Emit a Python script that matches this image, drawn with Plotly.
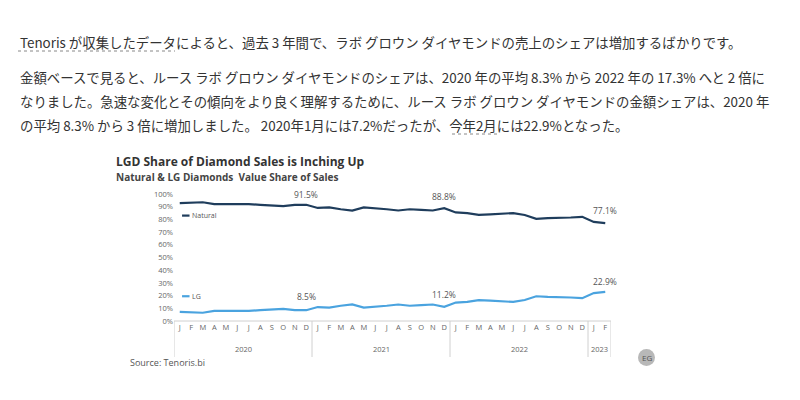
import plotly.graph_objects as go

months = ["J","F","M","A","M","J","J","A","S","O","N","D"]*3 + ["J","F"]
years = ["2020","2021","2022","2023"]
natural = [92.8,93,93.5,92,92,92.5,92,91.5,91,90.5,91.5,91.5,
           89,89.5,88,87,89.5,89,88,87,88,87.5,87,88.8,
           85.5,85,83.5,84,84.5,85,83.5,80.5,81,81,81.5,82,
           78,77.1]
lg = [7.2,7,6.5,8,8,7.5,8,8.5,9,9.5,8.5,8.5,
      11,10.5,12,13,10.5,11,12,13,12,12.5,13,11.2,
      14.5,15,16.5,16,15.5,15,16.5,19.5,19,19,18.5,18,
      22,22.9]
x = list(range(len(months)))
NAVY = "#1f3d5c"; BLUE = "#4aa3df"
OFF = 8  # page body margin
L, R, T, B = 174 - OFF, 189 + OFF, 194 - OFF, 79 + OFF
PW, PH = 800 - L - R, 400 - T - B
def px(xp): return (xp - OFF - L) / PW
def py(yp): return (400 - B - (yp - OFF)) / PH

fig = go.Figure()
fig.add_trace(go.Scatter(x=x, y=natural, mode="lines", line=dict(color=NAVY, width=2.2), hoverinfo="skip"))
fig.add_trace(go.Scatter(x=x, y=lg, mode="lines", line=dict(color=BLUE, width=2.2), hoverinfo="skip"))

ann = []
def a(**k):
    base = dict(showarrow=False, font=dict(family="Open Sans", size=8.5, color="#555"))
    base.update(k); ann.append(base)

for i, v, yl in [(11, "91.5%", 100), (23, "88.8%", 98), (37, "77.1%", 87),
                 (11, "8.5%", 19), (23, "11.2%", 20.5), (37, "22.9%", 31.5)]:
    a(x=i, y=yl, xref="x", yref="y", text=v)
for yi, xc in zip(years, [5.5, 17.5, 29.5, 36.5]):
    a(x=xc, y=py(349), xref="x", yref="paper", text=yi, yanchor="middle", font=dict(family="Open Sans", size=7.5, color="#666"))
a(x=0.9, y=83, xref="x", yref="y", text="Natural", xanchor="left", font=dict(family="Open Sans", size=7, color="#555"))
a(x=0.9, y=19.5, xref="x", yref="y", text="LG", xanchor="left", font=dict(family="Open Sans", size=7, color="#555"))

def t(xp, yp, text, size, color="#333", fam="Noto Sans CJK JP", anchor="left"):
    ann.append(dict(xref="paper", yref="paper", showarrow=False, xanchor=anchor, yanchor="middle",
                    x=px(xp), y=py(yp), text=text, font=dict(family=fam, size=size, color=color)))
FS = 13.4
t(18, 42, "Tenoris が収集したデータによると、過去 3 年間で、ラボ グロウン ダイヤモンドの売上のシェアは増加するばかりです。", FS)
t(18, 77, "金額ベースで見ると、ルース ラボ グロウン ダイヤモンドのシェアは、2020 年の平均 8.3% から 2022 年の 17.3% へと 2 倍に", FS)
t(18, 101, "なりました。急速な変化とその傾向をより良く理解するために、ルース ラボ グロウン ダイヤモンドの金額シェアは、2020 年", FS)
t(18, 125, "の平均 8.3% から 3 倍に増加しました。 2020年1月には7.2%だったが、今年2月には22.9%となった。", FS)
t(114, 161, "<b>LGD Share of Diamond Sales is Inching Up</b>", 12, "#333", "Open Sans")
t(114, 177, "<b>Natural & LG Diamonds  Value Share of Sales</b>", 10, "#444", "Open Sans")
t(128, 362, "Source: Tenoris.bi", 9, "#555", "Open Sans")
t(646.5, 357.5, "EG", 8, "#555", "Open Sans", "center")

shapes = []
for x0, x1, yp in [(18, 175, 51), (452, 500, 134)]:
    shapes.append(dict(type="line", xref="paper", yref="paper", x0=px(x0), x1=px(x1), y0=py(yp), y1=py(yp),
                       line=dict(color="#888", width=1, dash="dot")))
shapes.append(dict(type="line", xref="x", yref="y", x0=0.2, x1=0.85, y0=83, y1=83, line=dict(color=NAVY, width=2.2)))
shapes.append(dict(type="line", xref="x", yref="y", x0=0.2, x1=0.85, y0=19.5, y1=19.5, line=dict(color=BLUE, width=2.2)))
for xs in [-0.5, 11.5, 23.5, 35.5, 37.5]:
    shapes.append(dict(type="line", xref="x", yref="paper", x0=xs, x1=xs, y0=0, y1=py(357), line=dict(color="#d0d0d0", width=1)))
shapes.append(dict(type="line", xref="x", yref="paper", x0=-0.5, x1=37.5, y0=0, y1=0, line=dict(color="#d0d0d0", width=1)))
shapes.append(dict(type="circle", xref="paper", yref="paper", x0=px(638), x1=px(655), y0=py(366), y1=py(349),
                   fillcolor="#b8b8b8", line=dict(width=0), layer="below"))

fig.update_layout(
    width=800, height=400, showlegend=False, plot_bgcolor="white", paper_bgcolor="white",
    margin=dict(l=L, r=R, t=T, b=B),
    xaxis=dict(range=[-0.5, 37.5], tickmode="array", tickvals=x, ticktext=months, showgrid=False,
               zeroline=False, ticks="", tickfont=dict(family="Open Sans", size=7.5, color="#666")),
    yaxis=dict(range=[0, 100], dtick=10, ticksuffix="%", showgrid=False, zeroline=False,
               tickfont=dict(family="Open Sans", size=7.5, color="#666")),
    annotations=ann, shapes=shapes,
)
fig.write_html("out.html")
